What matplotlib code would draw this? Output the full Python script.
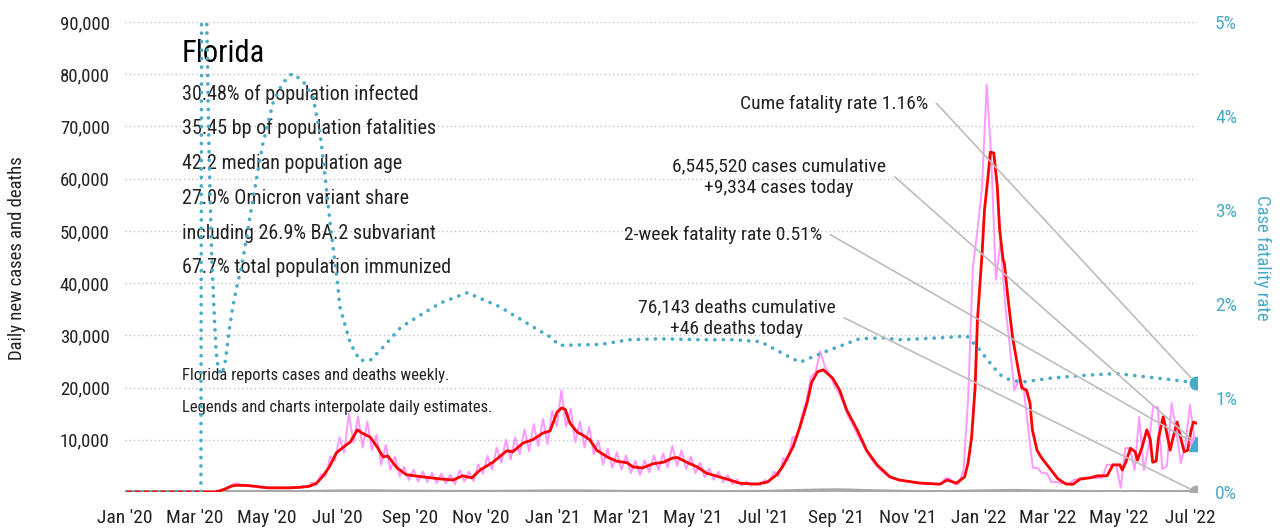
import numpy as np
import pandas as pd
import matplotlib
matplotlib.use('Agg')
import matplotlib.pyplot as plt
import matplotlib.dates as mdates
from matplotlib import font_manager

# pick a narrow face if there is one
installed = {f.name for f in font_manager.fontManager.ttflist}
narrow = next((f for f in ['Roboto Condensed', 'Liberation Sans Narrow', 'Open Sans Condensed',
                           'DejaVu Sans Condensed'] if f in installed), 'Liberation Sans')
plt.rcParams['font.family'] = [narrow, 'DejaVu Sans']

start = pd.Timestamp('2020-01-01')


def to_dates(d):
    return start + pd.to_timedelta(np.asarray(d, dtype=float), unit='D')


# 7-day average of new cases (days since 2020-01-01)
avg_day = [0, 77, 81, 86, 92, 98, 107, 122, 141, 150, 158, 164, 169, 175, 181, 187, 193, 199, 203, 210,
           216, 221, 225, 233, 241, 255, 270, 281, 289, 297, 304, 315, 327, 332, 341, 349, 358, 364,
           370, 374, 377, 381, 387, 392, 398, 404, 413, 421, 430, 435, 443, 452, 461, 469, 473, 481,
           490, 498, 509, 518, 526, 541, 550, 558, 563, 572, 578, 584, 588, 593, 598, 606, 612, 618,
           627, 635, 644, 655, 663, 681, 698, 704, 712, 719, 722, 725, 728, 730, 734, 736, 739, 741,
           744, 747, 749, 752, 753, 756, 760, 765, 768, 772, 775, 777, 781, 785, 792, 799, 806, 812,
           818, 826, 833, 841, 846, 852, 854, 857, 861, 865, 867, 871, 875, 878, 880, 883, 885, 889,
           891, 895, 897, 901, 903, 907, 910, 913, 915, 917]
avg_cases = [0, 0, 200, 600, 1200, 1300, 1200, 800, 800, 900, 1100, 1700, 2900, 4800, 7500, 8600, 9600,
             11900, 11300, 10500, 8600, 6700, 6900, 4600, 3300, 2900, 2500, 2300, 3100, 2700, 4200, 5700,
             7900, 7700, 9400, 10000, 11300, 11700, 15300, 16100, 15800, 13200, 11500, 10900, 10000, 8000,
             6700, 5900, 5600, 4800, 4600, 5400, 5700, 6500, 6600, 5700, 4800, 3600, 2900, 2300, 1700,
             1500, 1900, 3300, 4800, 8600, 12500, 17000, 21000, 23000, 23400, 21800, 19500, 15700, 11900,
             8000, 5200, 2900, 2300, 1700, 1500, 2300, 1700, 2900, 5600, 10500, 20100, 33000, 45800, 54000,
             60300, 65100, 64900, 58400, 50200, 44400, 43900, 37400, 29700, 23400, 19900, 19500, 17000,
             11900, 8000, 6500, 4500, 2500, 1500, 1500, 2500, 2700, 3100, 3100, 5200, 5200, 4200, 5700,
             8400, 7700, 6100, 8600, 11900, 10000, 5700, 5900, 10300, 14400, 12500, 8000, 10000, 13400,
             11300, 7700, 8000, 11900, 13400, 13200]

# daily new cases, read about every four days from 2020-03-06 to 2022-07-05
daily_cases = [0, 0, 0, 0, 250, 600, 1000, 1500, 1700, 1100,
               1400, 1000, 1200, 800, 1000, 700, 950, 700, 900, 700,
               950, 750, 1200, 900, 1800, 1300, 3400, 3000, 6800, 6000,
               10500, 7500, 15000, 9500, 14500, 8500, 13500, 8000, 11000, 5200,
               9000, 4200, 6800, 3000, 4800, 2300, 4300, 2000, 3900, 1900,
               3700, 1700, 3500, 1600, 3300, 1500, 4200, 2000, 3900, 2100,
               5300, 3500, 6900, 4300, 8500, 5600, 10000, 6200, 10500, 7200,
               12000, 7800, 13000, 8800, 14000, 9200, 15500, 12500, 19500, 12500,
               16000, 9500, 13500, 8500, 12500, 7200, 9800, 5300, 8300, 4600,
               7600, 4300, 7000, 3600, 6000, 3200, 6100, 3800, 7000, 4200,
               7400, 4700, 8800, 5000, 8000, 4400, 6800, 3600, 5600, 2800,
               4500, 2300, 3900, 1900, 3200, 1500, 2400, 1200, 2000, 1200,
               1800, 1300, 2300, 1900, 3900, 3000, 6500, 6000, 10500, 10500,
               14500, 17500, 22000, 23000, 27000, 24000, 22500, 20500, 19000, 17000,
               14500, 13000, 11000, 9500, 7800, 6300, 5200, 4200, 3500, 2800,
               2500, 2200, 2100, 2000, 1850, 1700, 1650, 1600, 1550, 1500,
               1500, 2600, 2600, 1500, 1600, 4200, 18000, 43000, 50000, 58400,
               78000, 64000, 40600, 48000, 36000, 28000, 19500, 21500, 20000, 12000,
               4600, 4600, 3600, 3600, 1900, 1900, 1700, 1700, 1700, 2400,
               2400, 2400, 2700, 2700, 2700, 2700, 5200, 5200, 5200, 800,
               8400, 8400, 4200, 14400, 4200, 8600, 16300, 16300, 4400, 5000,
               17000, 12000, 5500, 9000, 16700, 9400]

# daily deaths
death_day = [0, 75, 91, 121, 152, 182, 213, 244, 274, 305, 335, 366, 397, 425, 456, 486, 517, 547, 578,
             609, 639, 670, 700, 731, 762, 790, 821, 851, 882, 917]
deaths = [0, 20, 50, 50, 40, 150, 180, 100, 70, 60, 100, 160, 150, 80, 60, 60, 40, 60, 250, 380, 200, 60,
          30, 150, 250, 150, 50, 30, 40, 46]

# case fatality rate, %
cfr_day = [0, 65, 66, 68, 70, 72, 74, 76, 78, 80, 83, 86, 89, 92, 96, 100, 110, 118, 127, 135, 143, 152,
           161, 167, 171, 176, 182, 184, 193, 201, 210, 221, 236, 250, 270, 293, 321, 349, 364, 372, 407,
           432, 458, 492, 521, 544, 567, 578, 601, 629, 649, 663, 698, 721, 732, 741, 749, 758, 769, 792,
           820, 849, 878, 906, 917]
cfr = [0, 0, 9.0, 7.0, 5.0, 3.6, 2.6, 2.0, 1.5, 1.3, 1.25, 1.4, 1.7, 1.95, 2.2, 2.4, 3.15, 3.7, 4.15, 4.35,
       4.45, 4.38, 4.2, 3.82, 3.4, 2.82, 2.22, 1.97, 1.58, 1.40, 1.40, 1.54, 1.75, 1.86, 2.01, 2.12, 1.97,
       1.76, 1.65, 1.56, 1.57, 1.62, 1.63, 1.62, 1.62, 1.60, 1.45, 1.38, 1.5, 1.63, 1.64, 1.62, 1.64, 1.66,
       1.51, 1.37, 1.25, 1.19, 1.17, 1.21, 1.24, 1.26, 1.22, 1.18, 1.16]

cases_today = 9334
deaths_today = 46
two_week_cfr = 0.51

stats = ['30.48% of population infected', '35.45 bp of population fatalities',
         '42.2 median population age', '27.0% Omicron variant share',
         'including 26.9% BA.2 subvariant', '67.7% total population immunized']

TEAL = '#4aabc7'
PINK = '#ff99ff'
GRAY = '#a8a8a8'
LEAD = '#bdbdbd'

fig = plt.figure(figsize=(12.82, 5.32), dpi=100)
ax = fig.add_axes([125 / 1282, 40 / 532, 1072 / 1282, 470 / 532])
ax2 = ax.twinx()

avg_dates = to_dates(avg_day)
daily_dates = pd.date_range('2020-03-06', '2022-07-05', periods=len(daily_cases))
death_dates = to_dates(death_day)
cfr_dates = to_dates(cfr_day)
last = cfr_dates[-1]
last_num = mdates.date2num(last)

ax.plot(daily_dates, daily_cases, color=PINK, lw=1.4, zorder=2)
ax.plot(death_dates, deaths, color=GRAY, lw=2.6, zorder=3, solid_capstyle='round')
ax.plot(avg_dates, avg_cases, color='#ff0000', lw=2.0, zorder=4)
ax.plot([last], [cases_today], 'o', color=PINK, ms=9, zorder=5)
ax.plot([last], [deaths_today], 'o', color=GRAY, ms=9, zorder=5)

ax2.plot(cfr_dates, cfr, color=TEAL, lw=2.6, ls=(0, (0.05, 2.3)), dash_capstyle='round', zorder=3)
ax2.plot([last], [cfr[-1]], 'o', color=TEAL, ms=9, zorder=5)
ax2.plot([last], [two_week_cfr], '^', color=TEAL, ms=10, zorder=5)

ax.set_xlim(start, start + pd.Timedelta(days=918))
ax.set_ylim(0, 90000)
ax2.set_ylim(0, 5)

ticks = pd.date_range('2020-01-01', '2022-07-01', freq='2MS')
ax.set_xticks(ticks)
ax.set_xticklabels([t.strftime("%b '%y") for t in ticks], fontsize=14, color='#222222')
ax.set_yticks(np.arange(10000, 90001, 10000))
ax.set_yticklabels([f'{v:,}' for v in range(10000, 90001, 10000)], fontsize=13.5, color='#222222')
ax2.set_yticks(range(6))
ax2.set_yticklabels([f'{v}%' for v in range(6)], fontsize=14, color=TEAL)

ax.tick_params(axis='x', length=0, pad=12)
ax.tick_params(axis='y', length=0, pad=11)
ax2.tick_params(axis='y', length=0, pad=13)
ax.yaxis.grid(True, linestyle=(0, (1, 2)), color='#c4c4c4', lw=1)
ax.set_axisbelow(True)
for a in (ax, ax2):
    for s in a.spines.values():
        s.set_visible(False)

fig.text(17 / 1282, 1 - 258 / 532, 'Daily new cases and deaths', rotation=90, ha='center', va='center',
         fontsize=13.5, color='#222222')
fig.text(1262 / 1282, 1 - 258 / 532, 'Case fatality rate', rotation=270, ha='center', va='center',
         fontsize=13.5, color=TEAL)

# state summary
ax.text(0.053, 0.934, 'Florida', transform=ax.transAxes, fontsize=22, va='center', color='black')
for i, line in enumerate(stats):
    ax.text(0.053, 0.847 - i * 0.074, line, transform=ax.transAxes, fontsize=14.5, va='center',
            color='#222222')
ax.text(0.053, 0.247, 'Florida reports cases and deaths weekly.', transform=ax.transAxes,
        fontsize=12, va='center', color='#222222')
ax.text(0.053, 0.179, 'Legends and charts interpolate daily estimates.', transform=ax.transAxes,
        fontsize=12, va='center', color='#222222')

lead = dict(arrowstyle='-', color=LEAD, lw=1.2, shrinkA=4, shrinkB=5, relpos=(1, 0.5),
            connectionstyle='arc,angleA=0,angleB=0,armA=9,armB=0,rad=0')
ax2.annotate(f'Cume fatality rate {cfr[-1]:.2f}%', xy=(last_num, cfr[-1]), xycoords='data',
             xytext=(0.749, 0.826), textcoords='axes fraction', ha='right', va='center',
             fontsize=14, color='#222222', arrowprops=lead, zorder=6)
ax2.annotate(f'6,545,520 cases cumulative\n+{cases_today:,} cases today', xy=(last_num, cases_today),
             xycoords=ax.transData, xytext=(0.710, 0.670), textcoords='axes fraction', ha='right',
             va='center', multialignment='center', fontsize=14, color='#222222', linespacing=1.3,
             arrowprops=lead, zorder=6)
ax2.annotate(f'2-week fatality rate {two_week_cfr:.2f}%', xy=(last_num, two_week_cfr), xycoords='data',
             xytext=(0.650, 0.547), textcoords='axes fraction', ha='right', va='center',
             fontsize=14, color='#222222', arrowprops=lead, zorder=6)
ax2.annotate(f'76,143 deaths cumulative\n+{deaths_today} deaths today', xy=(last_num, deaths_today),
             xycoords=ax.transData, xytext=(0.663, 0.370), textcoords='axes fraction', ha='right',
             va='center', multialignment='center', fontsize=14, color='#222222', linespacing=1.3,
             arrowprops=lead, zorder=6)

fig.savefig('out.png', dpi=100)
